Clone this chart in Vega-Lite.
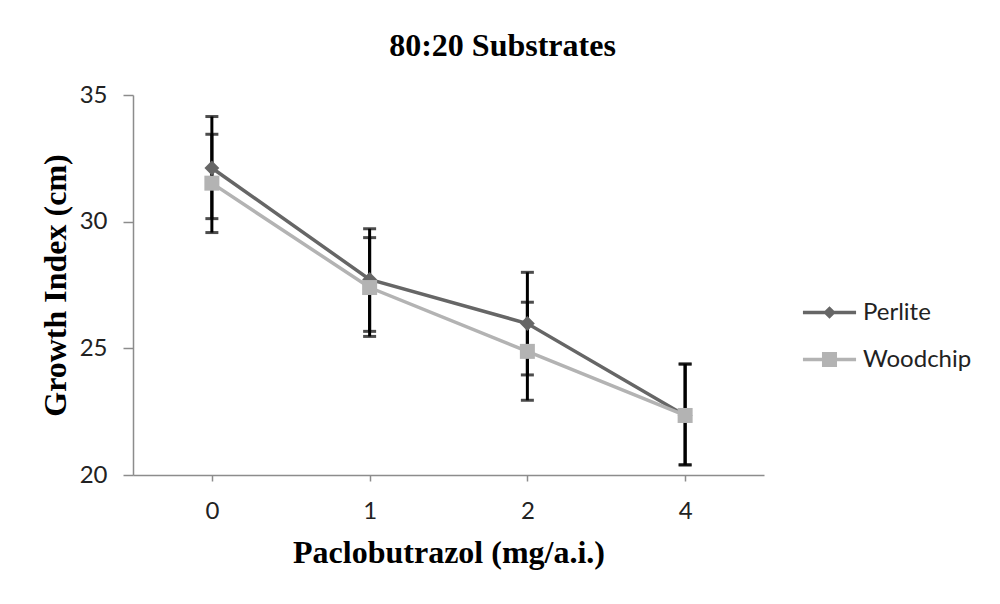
{
  "$schema": "https://vega.github.io/schema/vega-lite/v6.json",
  "width": 631,
  "height": 380,
  "autosize": {"type": "none"},
  "padding": {"left": 133, "top": 95, "right": 236, "bottom": 129},
  "background": "white",
  "config": {"view": {"stroke": null}, "font": "Lato"},
  "title": {
    "text": "80:20 Substrates",
    "font": "Liberation Serif",
    "fontSize": 32,
    "fontWeight": "bold",
    "color": "#000000",
    "frame": "group",
    "anchor": "middle",
    "dx": 54,
    "baseline": "alphabetic",
    "offset": -5
  },
  "data": {
    "values": [
      {"series": "Perlite", "dose": "0", "y": 32.12, "lo": 29.57, "hi": 34.15},
      {"series": "Perlite", "dose": "1", "y": 27.72, "lo": 25.67, "hi": 29.72},
      {"series": "Perlite", "dose": "2", "y": 25.98, "lo": 23.95, "hi": 28.0},
      {"series": "Perlite", "dose": "4", "y": 22.35, "lo": 20.4, "hi": 24.38},
      {"series": "Woodchip", "dose": "0", "y": 31.52, "lo": 30.12, "hi": 33.45},
      {"series": "Woodchip", "dose": "1", "y": 27.4, "lo": 25.47, "hi": 29.37},
      {"series": "Woodchip", "dose": "2", "y": 24.88, "lo": 22.95, "hi": 26.82},
      {"series": "Woodchip", "dose": "4", "y": 22.35, "lo": 20.4, "hi": 24.38}
    ]
  },
  "encoding": {
    "x": {
      "field": "dose",
      "type": "ordinal",
      "sort": ["0", "1", "2", "4"],
      "scale": {"type": "point", "padding": 0.5},
      "axis": {
        "title": "Paclobutrazol (mg/a.i.)",
        "titleFont": "Liberation Serif",
        "titleFontSize": 32,
        "titleFontWeight": "bold",
        "titleColor": "#000000",
        "titlePadding": 14,
        "labelAngle": 0,
        "labelFont": "Lato",
        "labelFontSize": 24,
        "labelColor": "#222222",
        "labelPadding": 18,
        "tickSize": 6,
        "tickColor": "#8c8c8c",
        "domainColor": "#8c8c8c",
        "domainWidth": 1.5,
        "tickWidth": 1.5,
        "grid": false
      }
    }
  },
  "layer": [
    {
      "mark": {"type": "errorbar", "ticks": true, "color": "#000000", "thickness": 3, "size": 13},
      "encoding": {
        "y": {
          "field": "lo",
          "type": "quantitative",
          "scale": {"domain": [20, 35], "nice": false, "zero": false},
          "axis": {
            "title": "Growth Index (cm)",
            "titleFont": "Liberation Serif",
            "titleFontSize": 32,
            "titleFontWeight": "bold",
            "titleColor": "#000000",
            "titlePadding": 7,
            "values": [20, 25, 30, 35],
            "labelFont": "Lato",
            "labelFontSize": 24,
            "labelColor": "#222222",
            "labelPadding": 16,
            "tickSize": 10,
            "tickColor": "#8c8c8c",
            "domainColor": "#8c8c8c",
            "domainWidth": 1.5,
            "tickWidth": 1.5,
            "grid": false
          }
        },
        "y2": {"field": "hi"}
      }
    },
    {
      "transform": [{"filter": "datum.series === 'Perlite'"}],
      "mark": {"type": "line", "strokeWidth": 3.5, "color": "#666666"},
      "encoding": {
        "y": {"field": "y", "type": "quantitative", "axis": {"title": "Growth Index (cm)"}}
      }
    },
    {
      "transform": [{"filter": "datum.series === 'Woodchip'"}],
      "mark": {"type": "line", "strokeWidth": 3.5, "color": "#b3b3b3"},
      "encoding": {
        "y": {"field": "y", "type": "quantitative", "axis": {"title": "Growth Index (cm)"}}
      }
    },
    {
      "transform": [{"filter": "datum.series === 'Perlite'"}],
      "mark": {"type": "point", "filled": true, "opacity": 1, "shape": "diamond", "size": 220, "color": "#666666"},
      "encoding": {
        "y": {"field": "y", "type": "quantitative", "axis": {"title": "Growth Index (cm)"}}
      }
    },
    {
      "transform": [{"filter": "datum.series === 'Woodchip'"}],
      "mark": {"type": "point", "filled": true, "opacity": 1, "shape": "square", "size": 225, "color": "#b3b3b3"},
      "encoding": {
        "y": {"field": "y", "type": "quantitative", "axis": {"title": "Growth Index (cm)"}}
      }
    },
    {
      "transform": [{"filter": "false"}],
      "mark": {"type": "point", "filled": true, "opacity": 1},
      "encoding": {
        "y": {"field": "y", "type": "quantitative", "axis": {"title": "Growth Index (cm)"}},
        "fill": {
          "field": "series",
          "type": "nominal",
          "scale": {"domain": ["Perlite", "Woodchip"], "range": ["#666666", "#b3b3b3"]},
          "legend": {
            "orient": "none",
            "legendX": 673,
            "legendY": 194,
            "title": null,
            "padding": 0,
            "labelFont": "Lato",
            "labelFontSize": 24,
            "labelColor": "#222222",
            "symbolSize": 2209,
            "symbolStrokeWidth": 0,
            "symbolOpacity": 1,
            "labelOffset": 10,
            "rowPadding": 11
          }
        },
        "shape": {
          "field": "series",
          "type": "nominal",
          "scale": {
            "domain": ["Perlite", "Woodchip"],
            "range": [
              "M-1.13,-0.075H1.13V0.075H-1.13ZM0,-0.27L0.27,0L0,0.27L-0.27,0Z",
              "M-1.13,-0.075H1.13V0.075H-1.13ZM-0.32,-0.32H0.32V0.32H-0.32Z"
            ]
          },
          "legend": {
            "orient": "none",
            "legendX": 673,
            "legendY": 194,
            "title": null,
            "padding": 0,
            "labelFont": "Lato",
            "labelFontSize": 24,
            "labelColor": "#222222",
            "symbolSize": 2209,
            "symbolStrokeWidth": 0,
            "symbolOpacity": 1,
            "labelOffset": 10,
            "rowPadding": 11
          }
        }
      }
    }
  ]
}
